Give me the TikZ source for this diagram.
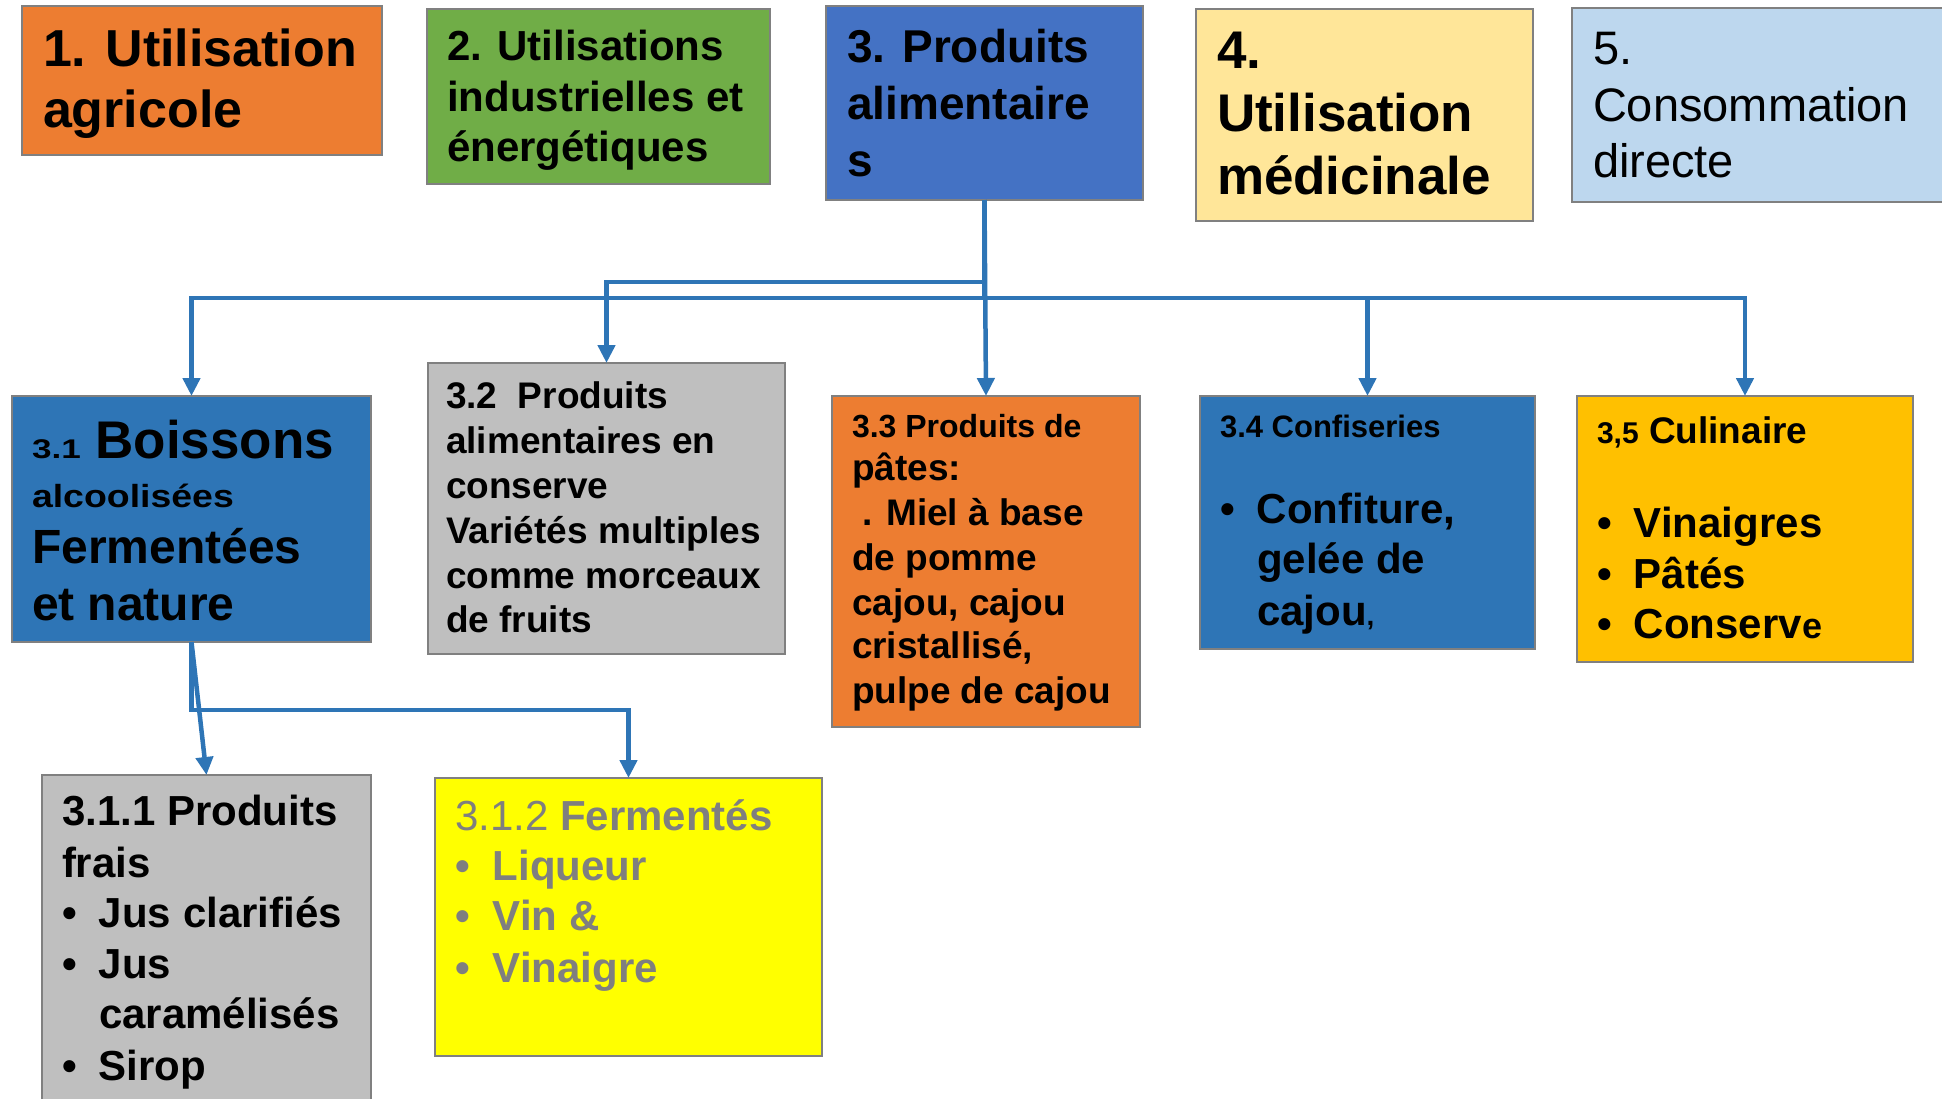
\documentclass[tikz,border=0pt]{standalone}
\usepackage{fontspec}
\setmainfont{Liberation Sans}
\usepackage{graphicx}
\usetikzlibrary{arrows.meta}
\definecolor{cOrange}{HTML}{ED7D31}
\definecolor{cGreen}{HTML}{70AD47}
\definecolor{cBlue}{HTML}{4472C4}
\definecolor{cYel}{HTML}{FFE699}
\definecolor{cLBlue}{HTML}{BDD7EE}
\definecolor{cMid}{HTML}{2E75B6}
\definecolor{cGray}{HTML}{BFBFBF}
\definecolor{cGold}{HTML}{FFC000}
\definecolor{cYellow}{HTML}{FFFF00}
\definecolor{cBorder}{HTML}{808080}
\definecolor{cLine}{HTML}{2E75B6}
\definecolor{cTxtGray}{HTML}{7F7F7F}
\newcommand\tline[3]{\fontsize{#1}{#2}\selectfont\hbox{#3}}
\newcommand\tb[1]{\vtop{\lineskiplimit=-1000pt\relax#1}}
\newcommand\bul[2][37pt]{\makebox[#1][l]{•}#2}
\newcommand\ind[1]{\hspace*{37pt}#1}
\begin{document}
\begin{tikzpicture}[x=1pt,y=-1pt,
  box/.style={draw=cBorder,line width=2pt,rectangle,inner sep=0pt,outer sep=0pt,anchor=north west},
  txt/.style={inner sep=0pt,outer sep=0pt,anchor=base west},
  conn/.style={draw=cLine,line width=4.5pt,-{Triangle[length=18pt,width=17pt]}}]
\useasboundingbox (0,0) rectangle (1942,1099);
\clip (0,0) rectangle (1942,1099);
% top row
\node[box,fill=cOrange,minimum width=360pt,minimum height=149pt] (b1) at (22,6) {};
\node[box,fill=cGreen,minimum width=343pt,minimum height=175pt] (b2) at (427,9) {};
\node[box,fill=cBlue,minimum width=317pt,minimum height=194pt] (b3) at (826,6) {};
\node[box,fill=cYel,minimum width=337pt,minimum height=212pt] (b4) at (1196,9) {};
\node[box,fill=cLBlue,minimum width=400pt,minimum height=194pt] (b5) at (1572,8) {};
% second row
\node[box,fill=cMid,minimum width=359pt,minimum height=246pt] (b31) at (12,396) {};
\node[box,fill=cGray,minimum width=357pt,minimum height=291pt] (b32) at (428,363) {};
\node[box,fill=cOrange,minimum width=308pt,minimum height=331pt] (b33) at (832,396) {};
\node[box,fill=cMid,minimum width=335pt,minimum height=253pt] (b34) at (1200,396) {};
\node[box,fill=cGold,minimum width=336pt,minimum height=266pt] (b35) at (1577,396) {};
% third row
\node[box,fill=cGray,minimum width=329pt,minimum height=340pt] (b311) at (42,775) {};
\node[box,fill=cYellow,minimum width=387pt,minimum height=278pt] (b312) at (435,778) {};
% connectors
\draw[conn] (b3.south) -- (b33.north);
\draw[conn] (b3.south) -- ++(0,82) -| (b32.north);
\draw[conn] (b3.south) -- ++(0,98) -| (b31.north);
\draw[conn] (b3.south) -- ++(0,98) -| (b34.north);
\draw[conn] (b3.south) -- ++(0,98) -| (b35.north);
\draw[conn] (b31.south) -- (b311.north);
\draw[conn] (b31.south) -- ++(0,68) -| (b312.north);
% texts
\node[txt] (t1) at (43,67) {\bfseries\tb{\tline{52}{0}{1. Utilisation}\tline{52}{61}{agricole}}};
\node[txt] (t2) at (447,61) {\bfseries\tb{\tline{42}{0}{2. Utilisations}\tline{42}{50.5}{industrielles et}\tline{42}{50.5}{énergétiques}}};
\node[txt] (t3) at (847,63) {\bfseries\tb{\tline{46}{0}{3. Produits}\tline{46}{57}{alimentaire}\tline{46}{57}{s}}};
\node[txt] (t4) at (1217,69) {\bfseries\tb{\tline{53}{0}{4.}\tline{53}{63}{Utilisation}\tline{53}{63}{médicinale}}};
\node[txt] (t5) at (1593,65) {\tb{\tline{47}{0}{5.}\tline{47}{56.5}{Consommation}\tline{47}{56.5}{directe}}};
\node[txt] (t31) at (32,458) {\bfseries\tb{%
  \tline{53}{0}{\scalebox{1.3}[1]{\fontsize{27}{0}\selectfont 3.1} Boissons}%
  \tline{32}{49}{\scalebox{1.17}[1]{alcoolisées}}%
  \tline{48}{56}{Fermentées}%
  \tline{48}{57}{et nature}}};
\node[txt] (t32) at (446,408) {\bfseries\tb{%
  \tline{37}{0}{3.2\ \ Produits}%
  \tline{37}{45}{alimentaires en}%
  \tline{37}{45}{conserve}%
  \tline{37}{45}{Variétés multiples}%
  \tline{37}{45}{comme morceaux}%
  \tline{37}{44}{de fruits}}};
\node[txt] (t33) at (852,437) {\bfseries\tb{%
  \tline{32}{0}{3.3 Produits de}%
  \tline{37}{43}{pâtes:}%
  \tline{37}{45}{\ . Miel à base}%
  \tline{37}{45}{de pomme}%
  \tline{37}{45}{cajou, cajou}%
  \tline{37}{43}{cristallisé,}%
  \tline{37}{45}{pulpe de cajou}}};
\node[txt] (t34) at (1220,437) {\bfseries\tb{%
  \tline{31}{0}{3.4 Confiseries}%
  \tline{42}{86}{\bul{Confiture,}}%
  \tline{42}{50}{\ind{gelée de}}%
  \tline{42}{52}{\ind{cajou{\fontsize{28}{0}\selectfont,}}}}};
\node[txt] (t35) at (1597,443) {\bfseries\tb{%
  \tline{37}{0}{{\fontsize{30}{0}\selectfont 3,5} Culinaire}%
  \tline{42}{94}{\bul{Vinaigres}}%
  \tline{42}{51}{\bul{Pâtés}}%
  \tline{42}{50}{\bul{Conserv{\fontsize{36}{0}\selectfont e}}}}};
\node[txt] (t311) at (62,825) {\bfseries\tb{%
  \tline{42}{0}{3.1.1 Produits}%
  \tline{42}{52}{frais}%
  \tline{42}{50}{\bul{Jus clarifiés}}%
  \tline{42}{51}{\bul{Jus}}%
  \tline{42}{50}{\ind{caramélisés}}%
  \tline{42}{52}{\bul{Sirop}}}};
\node[txt,text=cTxtGray] (t312) at (455,830) {\tb{%
  \tline{42}{0}{3.1.2 \bfseries Fermentés}%
  \tline{42}{50}{\bfseries\bul[38pt]{Liqueur}}%
  \tline{42}{50}{\bfseries\bul[38pt]{Vin \&}}%
  \tline{42}{52}{\bfseries\bul[38pt]{Vinaigre}}}};
\end{tikzpicture}
\end{document}
